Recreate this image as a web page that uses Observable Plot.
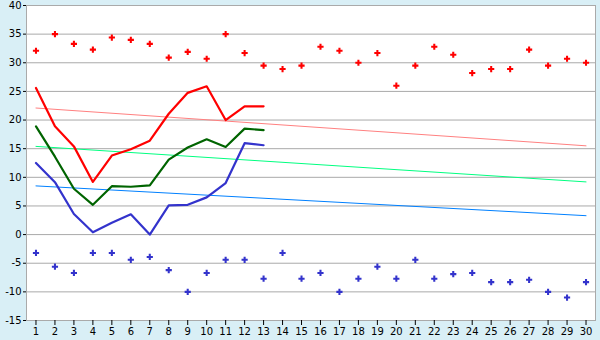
<!DOCTYPE html>
<html><head><meta charset="utf-8">
<style>html,body{margin:0;padding:0;background:#d9eff6;}</style>
<script src="https://cdn.jsdelivr.net/npm/d3@7"></script>
<script src="https://cdn.jsdelivr.net/npm/@observablehq/plot@0.6"></script>
</head><body><div id="chart"></div>
<script>
const days = [1,2,3,4,5,6,7,8,9,10,11,12,13,14,15,16,17,18,19,20,21,22,23,24,25,26,27,28,29,30];
const yTicks = [-15,-10,-5,0,5,10,15,20,25,30,35,40];
const maxPts = [32.1,35.0,33.3,32.3,34.4,34.0,33.3,30.9,31.9,30.7,35.0,31.7,29.5,28.9,29.5,32.8,32.1,30.0,31.7,26.0,29.5,32.8,31.4,28.2,28.9,28.9,32.3,29.5,30.7,30.0];
const minPts = [-3.2,-5.6,-6.7,-3.2,-3.2,-4.4,-3.9,-6.2,-10.0,-6.7,-4.4,-4.4,-7.7,-3.2,-7.7,-6.7,-10.0,-7.7,-5.6,-7.7,-4.4,-7.7,-6.9,-6.7,-8.3,-8.3,-7.9,-10.0,-11.0,-8.3];
const lineDays = [1,2,3,4,5,6,7,8,9,10,11,12,13];
const maxLine = [25.6,18.9,15.4,9.2,13.8,14.9,16.4,21.1,24.75,25.9,20.0,22.4,22.4];
const avgLine = [18.9,13.6,8.0,5.2,8.45,8.35,8.6,13.1,15.2,16.65,15.3,18.5,18.25];
const minLine = [12.5,9.15,3.6,0.4,2.05,3.55,0.0,5.1,5.2,6.5,9.0,15.96,15.6];
const trendDays = [1,30];
const trendMax = [22.1,15.5];
const trendAvg = [15.4,9.2];
const trendMin = [8.5,3.3];

const ln = (xs, ys, stroke, w) => Plot.line(xs, {x: d => d, y: (d,i) => ys[i], stroke, strokeWidth: w, curve: "linear"});
const pts = (ys, fill) => Plot.dot(days, {x: d => d, y: (d,i) => ys[i], symbol: "cross", r: 2.6, fill, stroke: "none"});

const chart = Plot.plot({
  width: 600, height: 340,
  marginLeft: 26, marginRight: 5, marginTop: 5, marginBottom: 20,
  style: {background: "#d9eff6", fontFamily: "DejaVu Sans", fontSize: "10px", color: "black"},
  x: {type: "linear", domain: [0.5, 30.5]},
  y: {domain: [-15, 40]},
  marks: [
    Plot.frame({fill: "white", stroke: "none"}),
    Plot.ruleY(yTicks, {stroke: "#aaaaaa", strokeOpacity: 1}),
    Plot.frame({stroke: "#aaaaaa", strokeOpacity: 1}),
    Plot.axisY(yTicks, {tickSize: 3, tickPadding: 2, label: null, tickFormat: d => String(d)}),
    Plot.axisX(days, {tickSize: 5, tickPadding: 2, label: null}),
    ln(trendDays, trendMax, "#ff8080", 1),
    ln(trendDays, trendAvg, "#00ff80", 1),
    ln(trendDays, trendMin, "#0080ff", 1),
    ln(lineDays, maxLine, "#ff0000", 2.2),
    ln(lineDays, avgLine, "#006400", 2.2),
    ln(lineDays, minLine, "#3333cc", 2.2),
    pts(maxPts, "#ff0000"),
    pts(minPts, "#3333cc")
  ]
});
document.getElementById("chart").appendChild(chart);
</script>
</body></html>
